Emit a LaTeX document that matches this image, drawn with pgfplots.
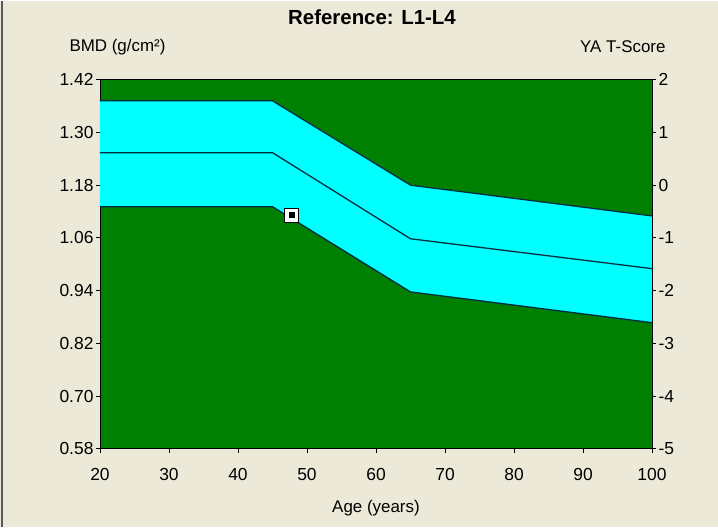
\documentclass[border=0pt]{standalone}
\usepackage{pgfplots}
\pgfplotsset{compat=1.18}
\usepackage{fontspec}
\setmainfont{Liberation Sans}
\definecolor{bg}{RGB}{236,233,216}
\definecolor{plotgreen}{RGB}{0,128,0}
\definecolor{bandcyan}{RGB}{0,255,255}
\definecolor{linec}{RGB}{0,45,65}
\newcommand{\tickfont}{\fontsize{17.5}{19}\selectfont}
\begin{document}
\begin{tikzpicture}[x=1bp,y=1bp]
\fill[bg] (-100,-78) rectangle (618,448);
\draw[black!65, line width=1.5bp] (-98,-78) -- (-98,448);
\begin{axis}[
  at={(0,0)}, anchor=south west, scale only axis,
  width=552bp, height=369bp,
  xmin=20, xmax=100, ymin=0.58, ymax=1.42,
  axis background/.style={fill=plotgreen},
  axis line style={black, line width=0.8bp},
  xtick={20,30,...,100},
  xticklabels={20,30,40,50,60,70,80,90,100},
  ytick={0.58,0.70,0.82,0.94,1.06,1.18,1.30,1.42},
  yticklabels={0.58,0.70,0.82,0.94,1.06,1.18,1.30,1.42},
  xtick pos=bottom, ytick pos=left,
  tick align=outside, major tick length=4bp,
  tick style={black, line width=0.8bp},
  ticklabel style={font=\tickfont},
  xticklabel style={yshift=-12bp},
  yticklabel style={xshift=1bp},
]
\addplot[fill=bandcyan, draw=none] coordinates {
 (20,1.372) (45,1.372) (65,1.180) (100,1.110)
 (100,0.867) (65,0.937) (45,1.131) (20,1.131)} -- cycle;
\addplot[linec, line width=1.3bp] coordinates {(20,1.372) (45,1.372) (65,1.180) (100,1.110)};
\addplot[linec, line width=1.3bp] coordinates {(20,1.254) (45,1.254) (65,1.058) (100,0.990)};
\addplot[linec, line width=1.3bp] coordinates {(20,1.131) (45,1.131) (65,0.937) (100,0.867)};
\addplot[only marks, mark=square*, mark size=7bp, mark options={fill=white, draw=black, line width=1bp}] coordinates {(47.8,1.112)};
\addplot[only marks, mark=square*, mark size=2.6bp, mark options={fill=black, draw=black}] coordinates {(47.8,1.112)};
\end{axis}
\begin{axis}[
  at={(0,0)}, anchor=south west, scale only axis,
  width=552bp, height=369bp,
  xmin=20, xmax=100, ymin=-5, ymax=2,
  hide x axis, axis y line*=right,
  axis line style={black, line width=0.8bp},
  ytick={-5,-4,...,2},
  yticklabels={-5,-4,-3,-2,-1,0,1,2},
  tick align=outside, major tick length=4bp,
  tick style={black, line width=0.8bp},
  ticklabel style={font=\tickfont},
  yticklabel style={xshift=-1bp},
]
\addplot[draw=none] coordinates {(20,0)};
\end{axis}
\node[font=\bfseries\fontsize{20.5}{22}\selectfont] at (272,432) {Reference: L1-L4};
\node[font=\fontsize{17}{19}\selectfont, anchor=west] at (-34,402) {BMD (g/cm²)};
\node[font=\fontsize{17}{19}\selectfont, anchor=east] at (569,402) {YA T-Score};
\node[font=\fontsize{17}{19}\selectfont] at (276,-59) {Age (years)};
\end{tikzpicture}
\end{document}
